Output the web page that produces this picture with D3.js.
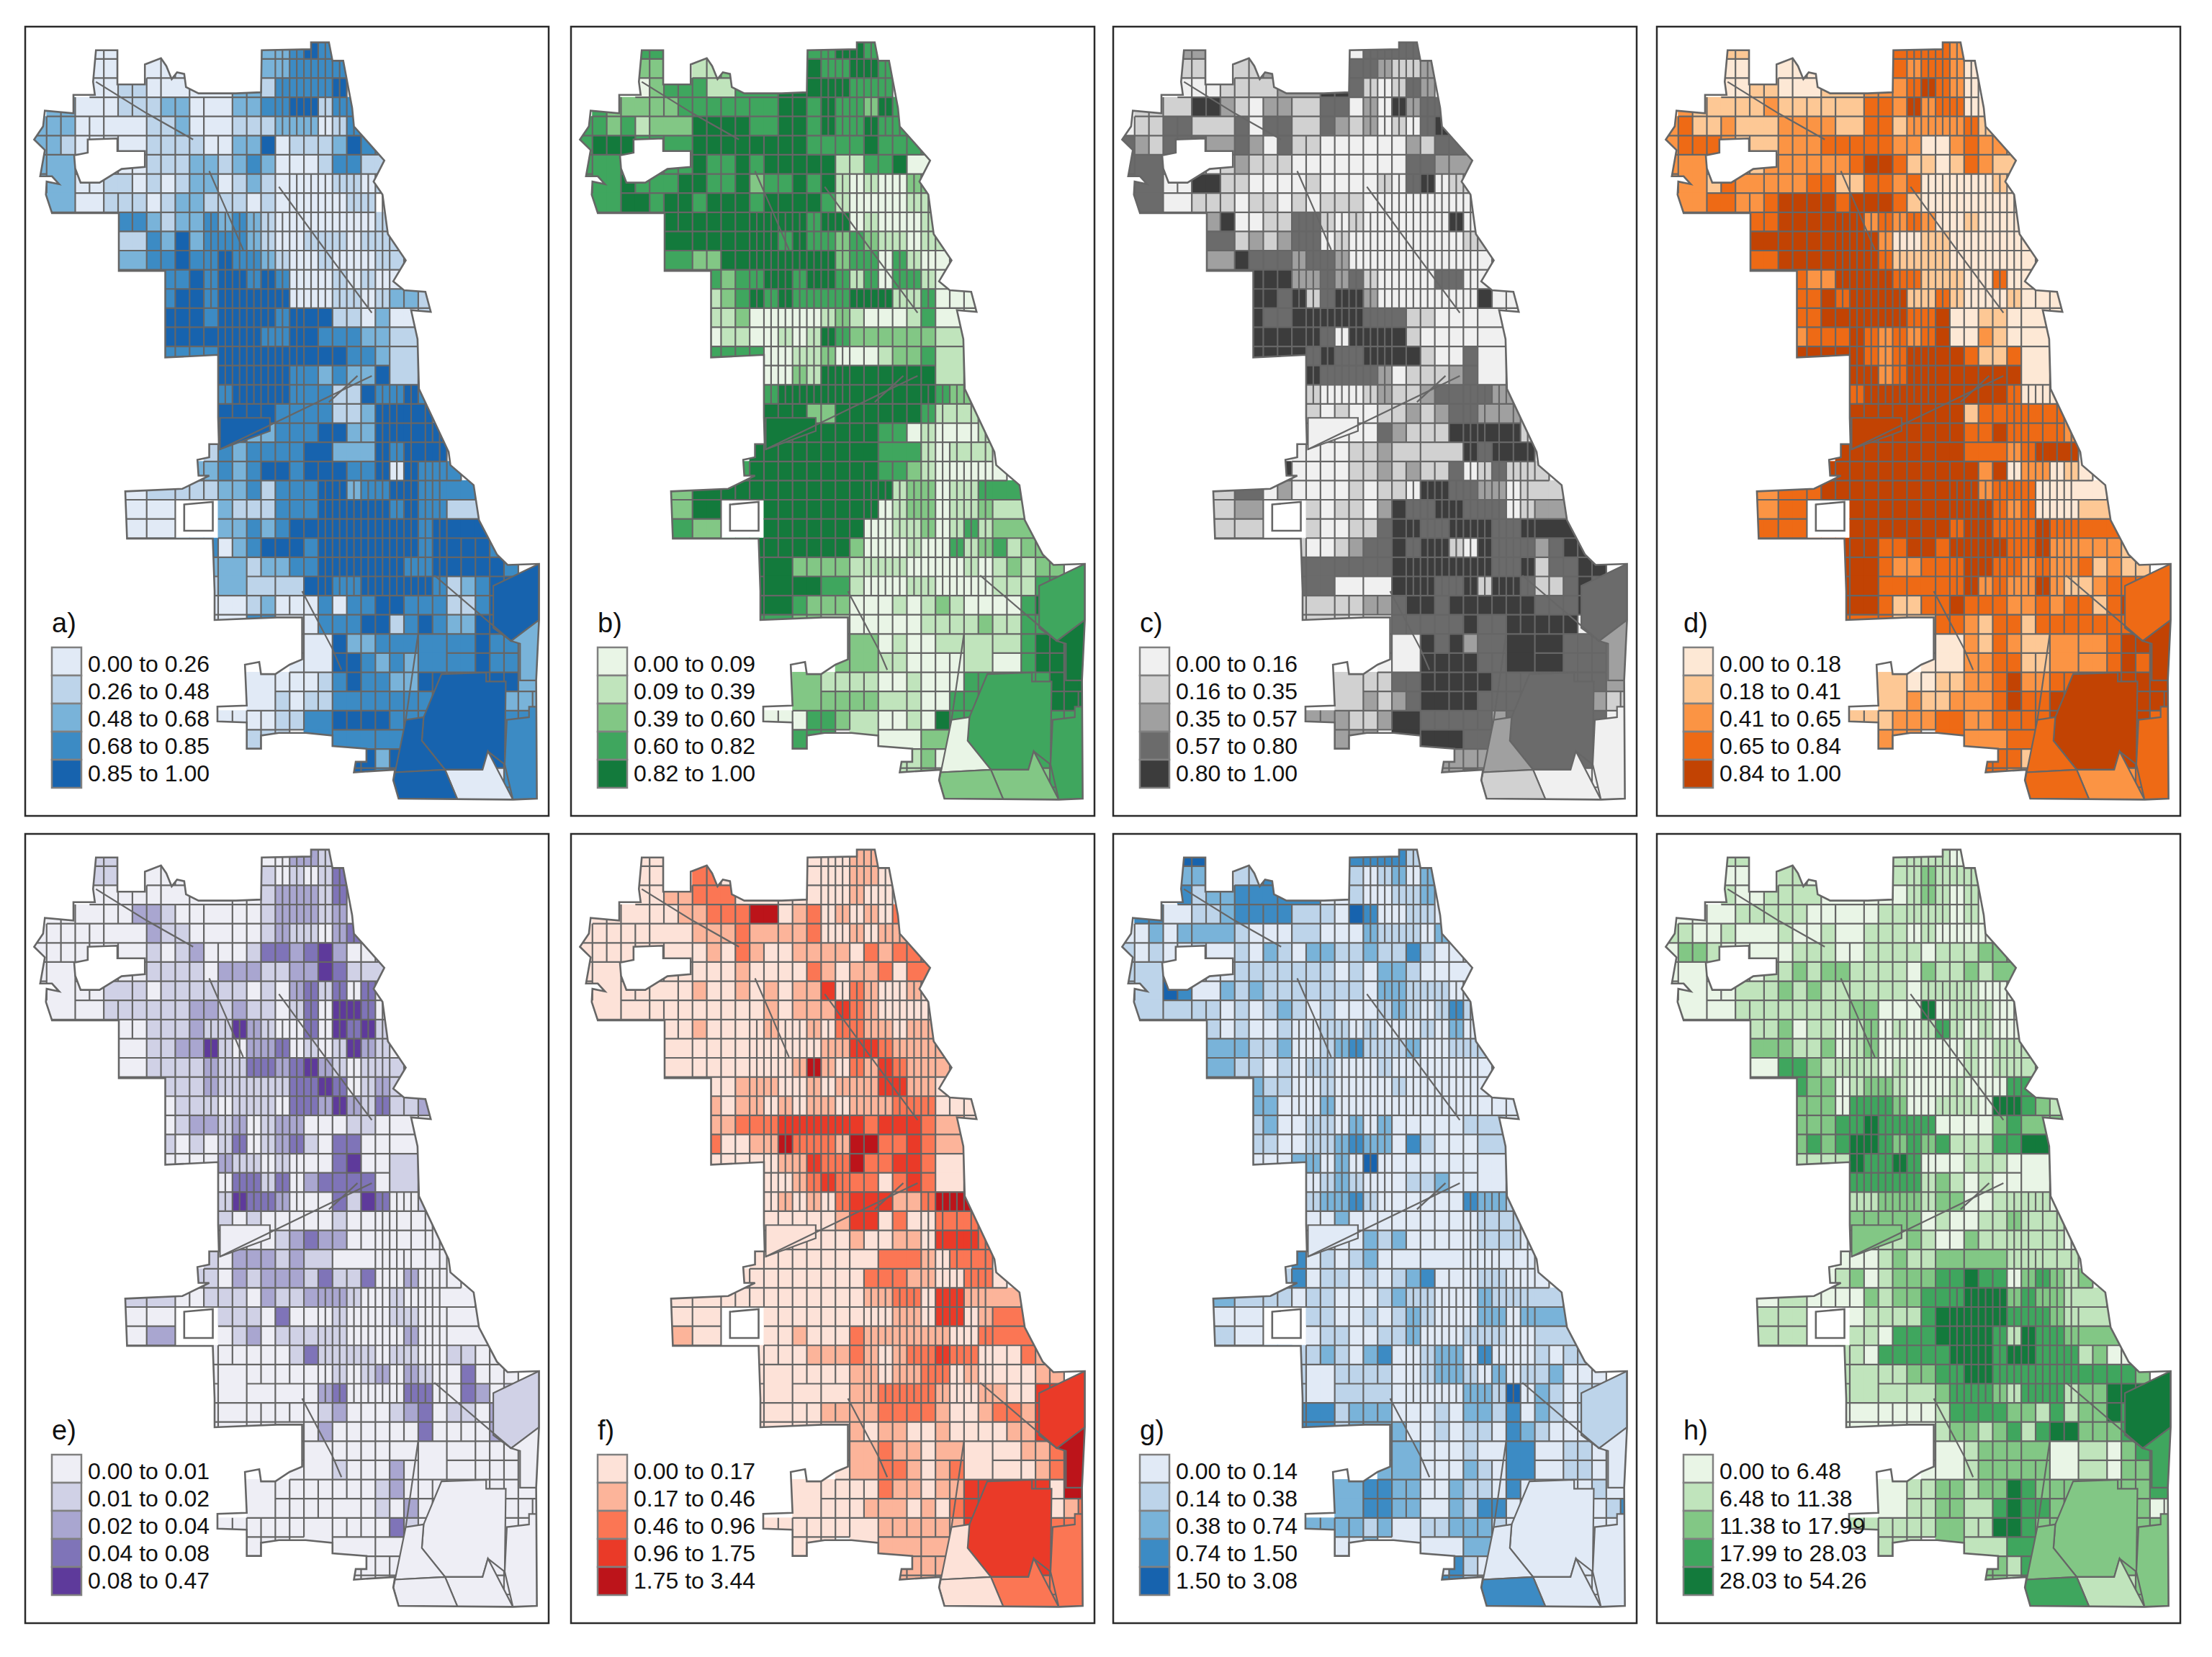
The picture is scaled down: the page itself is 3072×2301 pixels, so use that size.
<!DOCTYPE html>
<html>
<head>
<meta charset="utf-8">
<title>Chicago tract maps</title>
<script src="https://cdn.jsdelivr.net/npm/d3@7"></script>
<style>
  html, body { margin: 0; padding: 0; background: #fff; }
  svg { display: block; }
  text { font-family: "Liberation Sans", Arial, sans-serif; fill: #111; }
</style>
</head>
<body>
<svg id="chart" width="3072" height="2301"></svg>
<script>
'use strict'

//---------------------------colours--------------------------------//
const blues = ['#e1eaf6', '#bdd4ea', '#79b3d9', '#3c8bc4', '#1763ae'];
const greens = ['#e9f5e6', '#c0e4bc', '#82c785', '#3fa65e', '#137a3c'];
const greys = ['#f0f0f0', '#d1d1d1', '#a0a0a0', '#6b6b6b', '#3c3c3c'];
const oranges = ['#fde8d5', '#fdc895', '#fb9444', '#ee6a15', '#c24303'];
const purples = ['#eeeef5', '#d0d1e6', '#a9a6d0', '#7f74b8', '#5e3a9b'];
const reds = ['#fde2d8', '#fcb49a', '#fb7654', '#ea3a28', '#bc141a'];

//---------------------------legend text--------------------------------//
const letters = ['a)', 'b)', 'c)', 'd)', 'e)', 'f)', 'g)', 'h)'];
const labelsA = ['0.00 to 0.26', '0.26 to 0.48', '0.48 to 0.68', '0.68 to 0.85', '0.85 to 1.00'];
const labelsB = ['0.00 to 0.09', '0.09 to 0.39', '0.39 to 0.60', '0.60 to 0.82', '0.82 to 1.00'];
const labelsC = ['0.00 to 0.16', '0.16 to 0.35', '0.35 to 0.57', '0.57 to 0.80', '0.80 to 1.00'];
const labelsD = ['0.00 to 0.18', '0.18 to 0.41', '0.41 to 0.65', '0.65 to 0.84', '0.84 to 1.00'];
const labelsE = ['0.00 to 0.01', '0.01 to 0.02', '0.02 to 0.04', '0.04 to 0.08', '0.08 to 0.47'];
const labelsF = ['0.00 to 0.17', '0.17 to 0.46', '0.46 to 0.96', '0.96 to 1.75', '1.75 to 3.44'];
const labelsG = ['0.00 to 0.14', '0.14 to 0.38', '0.38 to 0.74', '0.74 to 1.50', '1.50 to 3.08'];
const labelsH = ['0.00 to 6.48', '6.48 to 11.38', '11.38 to 17.99', '17.99 to 28.03', '28.03 to 54.26'];

//---------------------------class of every tract, one row per line--------------------------------//
const classesA = [
  '....00..........22343',
  '....00..000.....223333',
  '....001100000022133334',
  '.2200011122000223344133',
  '222000001120011112220133',
  '2210000011110022401112433',
  '2220000011122123200013311',
  '2220010010122012100001101',
  '.22001110122111010000011',
  '......3321223232100000001',
  '......11324233321001110111',
  '......22334334332100100011',
  '.........33434434300010100',
  '.........3443444440001101221',
  '.........44434444344411020111',
  '.........444444433443332211',
  '.........333344444444433211',
  '.............44444332322411',
  '.............344443331143343',
  '.............444433331124444',
  '.............4422333442244444',
  '............13233334422243444',
  '...........2232344344433404333',
  '......0011111223133344233443333',
  '......0000...2111333444443433111',
  '......0000...2232344444444434444',
  '......003333302344434444444344443',
  '............2221223344444433444443',
  '............111111144334444431234444',
  '............000120003033443331134444',
  '............000330003334413432244442',
  '..................000422333333343322',
  '..................000443232233343322',
  '...............000001343322444444422',
  '...............001011333333344444222',
  '.............00001133444433344444333',
  '...............111.33333334444444333',
  '...............1......44244444444333',
  '......................44344440000333',
  '.........................44440000333'
];
const classesB = [
  '....33..........33443',
  '....22..112.....433443',
  '....023331333444444333',
  '.3222223333334443433243',
  '332312334444334434334333',
  '3444333344444444333343333',
  '3333333343343444441133400',
  '3344334443342334341010022',
  '.344434434443444431000011',
  '......4444444444344010001',
  '......44444444343323211011',
  '......33224444444423303100',
  '.........32334434431303310',
  '.........1234343333444113000',
  '.........11200000121000130000',
  '.........011001014322222211',
  '.........333300112000122311',
  '.............00214444444411',
  '.............344444444444322',
  '.............444224444443100',
  '.............4444444433010001',
  '............44444444433310111',
  '...........3444444444332100000',
  '......2244444444444444122011311',
  '......2244...4444444401220112111',
  '......3322...4444444001120131222',
  '......333334444444420001003123122',
  '............4442222111100001012122',
  '............444443310001100001113333',
  '............443322200010121000034433',
  '............333221100000111121133444',
  '..................222010011121134444',
  '..................222110000110034444',
  '...............221111001000333333444',
  '...............012222111003333333444',
  '.............00033211001043333333333',
  '...............333.11000210033333333',
  '...............3......11200033333333',
  '......................11200002222333',
  '.........................22222222333'
];
const classesC = [
  '....22..........03333',
  '....11..112.....332112',
  '....000111221444310132',
  '.1114442102214330204233',
  '011331033033103212010343',
  '3213332332031100000021333',
  '3330000121110000000033222',
  '3300044110000100001034011',
  '.320111101101011100000000',
  '......2400113310100000040',
  '......34121233010000000011',
  '......24433323320000000000',
  '.........44422323100003300',
  '.........4434134420000000400',
  '.........43344444333110000000',
  '.........444443044441000000',
  '.........444434334444100300',
  '.............43333201112300',
  '.............100012112333322',
  '.............101001121233211',
  '.............0000032111444441',
  '............00001121211343444',
  '...........4000011212113013111',
  '......1133020000101104433220111',
  '......1122...1011024334433301222',
  '......1111...1001134433444334444',
  '......112111100123343441043332344',
  '............3323333444444433413344',
  '............332000344433414431134333',
  '............112112234434444443334333',
  '............111100033333433444440132',
  '..................003434233444433322',
  '..................011444433444433322',
  '...............111133444443333333311',
  '...............112123444433333333211',
  '.............22211244333332333333300',
  '...............222.444333222333333300',
  '...............2......22222233333000',
  '......................22312220000000',
  '.........................11110000000'
];
const classesD = [
  '....11..........33332',
  '....00..000.....323320',
  '....001100111222234320',
  '.2112112111112332423300',
  '231121122222133312222312',
  '2333211222233333220023221',
  '2221111222222344311013211',
  '2211322222331133230000010',
  '.113322344443444310000000',
  '......3344444423232001000',
  '......43444444420011000000',
  '......33444444431111000000',
  '.........32244443311100300',
  '.........3343444411310001000',
  '.........33444444334001100000',
  '.........233343232340021000',
  '.........444443234444311300',
  '.............44234444444400',
  '.............344444444443000',
  '.............444444441333310',
  '.............4444444433433332',
  '............44444444333423422',
  '...........4444444444424022010',
  '......2233344444444444233300000',
  '......2233...4444444444323000100',
  '......3333...4444444344333433333',
  '......114444444334434444334222221',
  '............4443223334433232231211',
  '............444343333423224211233333',
  '............443311334333223233134433',
  '............333311333213313333333444',
  '..................002213211222234444',
  '..................011223311222234344',
  '...............110011223422334444444',
  '...............012112223433444444444',
  '.............11122233223333444444433',
  '...............222.32223333333333333',
  '...............2......33313344444333',
  '......................33213332222333',
  '.........................33332222333'
];
const classesE = [
  '....11..........00221',
  '....11..000.....101013',
  '....000000000000122213',
  '.0000002210000001222120',
  '000000022110000012110230',
  '0000000010120001332342001',
  '0000000011110222112243111',
  '0000011101111110102313030',
  '.000111111122121101304430',
  '......0011121142100304341',
  '......00112241022301014210',
  '......00111121133234210111',
  '.........11121111133430121',
  '.........0111011103324213112',
  '.........01221201220001100000',
  '.........101013012310330000',
  '.........000021101000340011',
  '.............03313023333011',
  '.............143320003143001',
  '.............101000001000010',
  '.............0000123220000200',
  '............10222121100000000',
  '...........1102122213113002000',
  '......1111001110211222100100033',
  '......0000...1110300010001100000',
  '......0022...0120111110000200000',
  '......000000000000131111011001100',
  '............0000000001012021003000',
  '............000000002300003300320111',
  '............000000001200012301102111',
  '............000000002000000300002300',
  '..................000000000000000000',
  '..................001100020000000000',
  '...............000000000120000000000',
  '...............110000000102000000000',
  '.............00000000000031000000000',
  '...............000.00000001000000000',
  '...............0......00000000000000',
  '......................00000000000000',
  '.........................00000000000'
];
const classesF = [
  '....00..........00011',
  '....00..220.....000110',
  '....001122201100000100',
  '.0000001122244012010102',
  '000000001112111120010110',
  '0000000001021001111021222',
  '0000000000010000210112022',
  '0000000010010101130210010',
  '.000000000000101113210000',
  '......0010000100102211011',
  '......01000000000113321111',
  '......00000000014102132111',
  '.........00111001011133110',
  '.........1011010110111222000',
  '.........11222333333233321000',
  '.........200114222144223211',
  '.........000001132242233201',
  '.............00123222023211',
  '.............010102333112444',
  '.............000001330200222',
  '.............0000001001103222',
  '............00000000022010222',
  '...........0000000002221100220',
  '......0000000000000011220331111',
  '......0000...0000000001103301221',
  '......1000...0010002111111002222',
  '......000000000011121012232200021',
  '............0000000110112201000011',
  '............000000011222210011003333',
  '............000001111222210012213333',
  '............000000110110010000113344',
  '..................111211012000011244',
  '..................000221012000001224',
  '...............000000211011333333011',
  '...............000001110102333333012',
  '.............00000000111111333333222',
  '...............000.00111110033333222',
  '...............0......11110033333222',
  '......................11100002222222',
  '.........................00002222222'
];
const classesG = [
  '....44..........33331',
  '....22..113.....101202',
  '....312233331100100112',
  '.3301112333310104300110',
  '002022111000100002111022',
  '1010010010210221121131000',
  '1144000011111110102210000',
  '1144301212111111102211100',
  '.121111010121010001210131',
  '......1010010011010001020',
  '......22211200123111200111',
  '......22110101100010000000',
  '.........21100100001000000',
  '.........2200020000000000000',
  '.........12001102020000011000',
  '.........110011232203100010',
  '.........000220204000000000',
  '.............01210001120000',
  '.............122310000003221',
  '.............002000000000111',
  '.............0000212000001000',
  '............30101200000200033',
  '...........1301101012300011000',
  '......2211110110001211000211122',
  '......0100...1100101210002202222',
  '......1100...0110011200011100111',
  '......200033112102300122030001011',
  '............1001111001221020112000',
  '............111111100000221402101111',
  '............331122200010221302101111',
  '............331122220010110321000200',
  '..................222000100320011000',
  '..................222000210330011000',
  '...............223322002110300000110',
  '...............223322002133000000013',
  '.............22221200112221000000000',
  '...............002.00012220000000000',
  '...............0......03100000000000',
  '......................33100000000000',
  '.........................33330000000'
];
const classesH = [
  '....11..........11110',
  '....00..110.....112111',
  '....100111000000012101',
  '.0001111110000011111010',
  '110010011001011110100000',
  '0221000101110011110111222',
  '0000000112122111102112122',
  '0000011121211111101111000',
  '.010111111111220004011100',
  '......1120110120101310100',
  '......22211201200000010111',
  '......00332111101000010111',
  '.........32201221000100033',
  '.........2220333200111044321',
  '.........22233433330000232320',
  '.........232344323231113344',
  '.........111143343000111000',
  '.............33333121010000',
  '.............112221220011110',
  '.............222220100112100',
  '.............2111210021111000',
  '............00012112222411110',
  '...........0120122233433023212',
  '......0011000021223334442322111',
  '......1111...0111134444433321111',
  '......1111...1103334444314332221',
  '......111000110333334443443331200',
  '............1101122334433333333332',
  '............110111223332133312244444',
  '............000000013333221312243344',
  '............000000012212313442223333',
  '..................002122222001102333',
  '..................000122222001102233',
  '...............001122122432222222210',
  '...............011122123433222222200',
  '.............11111122114432222222222',
  '...............111.22113332222222222',
  '...............1......22132222222222',
  '......................22132221111222',
  '.........................33331111222'
];

// classes of the large irregular tracts, same order as largeTracts, panels a to h
const calumetClasses = [4, 3, 3, 4, 0, 3, 0, 2];
const wedgeClasses = [4, 0, 2, 3, 0, 0, 0, 2];
const southClasses = [0, 2, 0, 2, 0, 2, 0, 1];
const southWestClasses = [4, 2, 1, 3, 0, 0, 3, 3];
const southEastClasses = [3, 3, 0, 3, 0, 2, 0, 2];
const lakeClasses = [4, 3, 3, 3, 1, 3, 1, 4];
const lakeSouthClasses = [2, 4, 2, 4, 0, 4, 0, 3];
const archerClasses = [4, 4, 0, 4, 0, 0, 0, 2];

//---------------------------map geometry, in map units--------------------------------//
const cityRing = [[228,70],[288,70],[288,135],[365,135],[365,97],[410,85],[425,100],[440,125],[455,112],[475,115],[480,140],[515,152],[620,152],[690,150],[692,70],[830,68],[830,55],[880,55],[890,90],[920,90],[945,180],[950,215],[1035,280],[1005,320],[1030,345],[1045,420],[1095,470],[1060,510],[1090,527],[1150,530],[1165,568],[1110,565],[1128,620],[1132,715],[1215,835],[1220,860],[1285,898],[1300,965],[1350,1030],[1380,1050],[1468,1048],[1468,1155],[1460,1270],[1462,1495],[1395,1497],[1075,1495],[1060,1460],[1065,1440],[950,1445],[955,1425],[985,1425],[985,1400],[890,1395],[890,1375],[815,1370],[740,1370],[690,1375],[690,1400],[650,1400],[650,1350],[568,1348],[568,1320],[650,1318],[645,1240],[685,1235],[690,1258],[730,1258],[770,1240],[805,1230],[805,1150],[735,1150],[560,1155],[560,1100],[555,1000],[400,1000],[315,1000],[310,910],[470,905],[545,880],[515,880],[512,850],[545,845],[545,820],[572,820],[570,770],[570,650],[422,655],[422,490],[292,490],[292,380],[105,380],[88,345],[90,320],[125,325],[105,310],[72,310],[85,260],[55,240],[80,215],[85,185],[165,190],[165,155],[225,155],[220,130],[228,70]];
const ohareHole = [[167,270],[205,265],[205,240],[288,238],[288,262],[365,262],[365,292],[300,296],[238,322],[185,322],[170,295],[167,270]];
const westHole = [[475,935],[555,930],[555,985],[475,985],[475,935]];

const calumetRing = [[1195,1258],[1320,1255],[1320,1272],[1375,1272],[1372,1430],[1325,1405],[1310,1440],[1205,1440],[1140,1385],[1145,1340],[1195,1258]];
const wedgeRing = [[1095,1345],[1145,1340],[1140,1385],[1205,1440],[1065,1445],[1095,1345]];
const southRing = [[1205,1440],[1310,1440],[1325,1405],[1395,1497],[1240,1497],[1205,1440]];
const southWestRing = [[1065,1445],[1205,1440],[1240,1497],[1075,1497],[1060,1460],[1065,1445]];
const southEastRing = [[1372,1430],[1378,1345],[1440,1340],[1440,1320],[1468,1320],[1468,1497],[1395,1497],[1372,1430]];
const lakeRing = [[1340,1090],[1468,1048],[1468,1155],[1390,1195],[1340,1170],[1340,1090]];
const lakeSouthRing = [[1390,1195],[1468,1155],[1468,1270],[1415,1270],[1415,1200],[1390,1195]];
const archerRing = [[575,770],[715,770],[715,795],[575,830],[575,770]];

const largeTracts = [
  { ring: calumetRing, classes: calumetClasses },
  { ring: wedgeRing, classes: wedgeClasses },
  { ring: southRing, classes: southClasses },
  { ring: southWestRing, classes: southWestClasses },
  { ring: southEastRing, classes: southEastClasses },
  { ring: lakeRing, classes: lakeClasses },
  { ring: lakeSouthRing, classes: lakeSouthClasses },
  { ring: archerRing, classes: archerClasses }
];

// long diagonal streets that cut across the grid
const streets = [
  [[228,130],[370,190],[500,240]],
  [[545,300],[590,370],[640,450]],
  [[740,330],[880,460],[1000,570]],
  [[575,830],[1000,690]],
  [[1175,1070],[1390,1195]],
  [[1130,1180],[1095,1345]],
  [[880,740],[960,690]],
  [[805,1100],[890,1210],[915,1250]]
];

// grid cells that belong to one tract: col0, row0, col1, row1
const mergedCells = [
  [1,6,2,8], [25,16,26,17], [21,21,23,21], [23,6,24,6], [6,10,7,10], [6,11,7,11],
  [13,27,14,28], [19,21,20,21], [29,32,30,32], [29,31,30,31],
  [6,23,7,23], [8,23,9,23], [6,24,7,24], [8,24,9,24], [6,25,7,25], [8,25,9,25],
  [13,29,14,29], [13,30,14,30], [17,30,18,30], [17,28,18,28], [12,3,13,3],
  [34,31,35,33], [19,31,20,32], [15,33,16,34], [19,35,20,36], [21,34,22,34],
  [21,36,23,36], [24,36,25,36], [27,31,28,32], [25,31,26,31], [15,28,16,28],
  [3,3,4,3], [5,4,7,4], [3,8,4,8], [5,7,6,7], [12,4,13,4], [11,2,13,2], [6,5,7,5], [9,2,10,2],
  [25,14,26,14], [25,15,26,15], [25,19,27,19], [25,20,27,20], [26,21,28,21],
  [28,23,30,23], [29,24,31,24], [29,25,31,25]
];

// blocks of narrow tracts, each column gets an extra line: col0, row0, col1, row1
const narrowBlocks = [
  [13,14,18,18], [18,7,24,13], [20,23,28,28], [24,18,28,22], [17,0,22,4], [12,9,17,13]
];

const panels = [
  { classes: classesA, colors: blues, labels: labelsA },
  { classes: classesB, colors: greens, labels: labelsB },
  { classes: classesC, colors: greys, labels: labelsC },
  { classes: classesD, colors: oranges, labels: labelsD },
  { classes: classesE, colors: purples, labels: labelsE },
  { classes: classesF, colors: reds, labels: labelsF },
  { classes: classesG, colors: blues, labels: labelsG },
  { classes: classesH, colors: greens, labels: labelsH }
];

//---------------------------layout--------------------------------//
const panelW = 727, panelH = 1096;
const panelLeft = [35, 793, 1546, 2301];
const panelTop = [37, 1158];
const meshColor = '#666';
const nCols = 36, nRows = 40;

const sx = d3.scaleLinear().domain([30, 1495]).range([0, panelW]);
const sy = d3.scaleLinear().domain([25, 1528]).range([0, panelH]);
const colEdge = d3.scaleLinear().domain([0, nCols]).range([50, 1490]);
const rowEdge = d3.scaleLinear().domain([0, nRows]).range([50, 1510]);

const mapPath = d3.geoPath(d3.geoTransform({
  point: function (x, y) { this.stream.point(sx(x), sy(y)); }
}));

// which tract a grid cell is part of
const tractOf = new Map();
mergedCells.forEach(function (m) {
  for (let r = m[1]; r <= m[3]; r++) {
    for (let c = m[0]; c <= m[2]; c++) {
      tractOf.set(c + ',' + r, m[0] + ',' + m[1]);
    }
  }
});
function tractKey(c, r) {
  const k = c + ',' + r;
  return tractOf.has(k) ? tractOf.get(k) : k;
}

function cellClass(rows, c, r) {
  if (r < 0 || r >= nRows) return '.';
  return rows[r].padEnd(nCols, '.').charAt(c) || '.';
}

const svg = d3.select('#chart');

svg.append('defs').append('clipPath').attr('id', 'city')
  .append('path')
  .attr('clip-rule', 'evenodd')
  .attr('d', mapPath({ type: 'Polygon', coordinates: [cityRing, ohareHole, westHole] }));

panels.forEach(function (panel, i) {
  const g = svg.append('g')
    .attr('transform', 'translate(' + panelLeft[i % 4] + ',' + panelTop[i < 4 ? 0 : 1] + ')');

  g.append('rect')
    .attr('width', panelW).attr('height', panelH)
    .attr('fill', '#fff').attr('stroke', '#2a2a2a').attr('stroke-width', 2.5);

  const map = g.append('g').attr('clip-path', 'url(#city)');

  // cells
  const cells = [];
  d3.range(nRows).forEach(function (r) {
    d3.range(nCols).forEach(function (c) {
      const own = cellClass(panel.classes, c, r);
      if (own === '.') return;
      const key = tractKey(c, r).split(',').map(Number);
      const v = cellClass(panel.classes, key[0], key[1]);
      cells.push({ c: c, r: r, v: v === '.' ? +own : +v });
    });
  });
  map.selectAll('rect.cell').data(cells).join('rect')
    .attr('class', 'cell')
    .attr('x', function (d) { return sx(colEdge(d.c)) - 0.5; })
    .attr('y', function (d) { return sy(rowEdge(d.r)) - 0.5; })
    .attr('width', function (d) { return sx(colEdge(d.c + 1)) - sx(colEdge(d.c)) + 1; })
    .attr('height', function (d) { return sy(rowEdge(d.r + 1)) - sy(rowEdge(d.r)) + 1; })
    .attr('fill', function (d) { return panel.colors[d.v]; });

  // tract borders
  const mesh = d3.path();
  cells.forEach(function (d) {
    const x0 = sx(colEdge(d.c)), x1 = sx(colEdge(d.c + 1));
    const y0 = sy(rowEdge(d.r)), y1 = sy(rowEdge(d.r + 1));
    if (tractKey(d.c + 1, d.r) !== tractKey(d.c, d.r)) { mesh.moveTo(x1, y0); mesh.lineTo(x1, y1); }
    if (tractKey(d.c, d.r + 1) !== tractKey(d.c, d.r)) { mesh.moveTo(x0, y1); mesh.lineTo(x1, y1); }
  });
  narrowBlocks.forEach(function (b) {
    d3.range(b[0], b[2] + 1).forEach(function (c) {
      mesh.moveTo(sx(colEdge(c + 0.5)), sy(rowEdge(b[1])));
      mesh.lineTo(sx(colEdge(c + 0.5)), sy(rowEdge(b[3] + 1)));
    });
  });
  map.append('path').attr('d', mesh.toString())
    .attr('fill', 'none').attr('stroke', meshColor).attr('stroke-width', 2.2);

  // large irregular tracts
  map.selectAll('path.large').data(largeTracts).join('path')
    .attr('class', 'large')
    .attr('d', function (t) { return mapPath({ type: 'Polygon', coordinates: [t.ring] }); })
    .attr('fill', function (t) { return panel.colors[t.classes[i]]; })
    .attr('stroke', meshColor).attr('stroke-width', 2.2);

  map.selectAll('path.street').data(streets).join('path')
    .attr('class', 'street')
    .attr('d', function (s) { return mapPath({ type: 'LineString', coordinates: s }); })
    .attr('fill', 'none').attr('stroke', meshColor).attr('stroke-width', 2.2);

  // city outline
  g.append('path')
    .attr('d', mapPath({ type: 'Polygon', coordinates: [cityRing, ohareHole, westHole] }))
    .attr('fill', 'none').attr('stroke', meshColor).attr('stroke-width', 2.6);

  // legend
  const legend = g.append('g').attr('transform', 'translate(37,862)');
  legend.append('text').attr('x', 0).attr('y', -21)
    .attr('font-size', 38).text(letters[i]);
  legend.selectAll('rect').data(panel.colors).join('rect')
    .attr('x', 0).attr('y', function (d, k) { return k * 39; })
    .attr('width', 41).attr('height', 39)
    .attr('fill', function (d) { return d; })
    .attr('stroke', '#808080').attr('stroke-width', 2.5);
  legend.selectAll('text.lab').data(panel.labels).join('text')
    .attr('class', 'lab')
    .attr('x', 50).attr('y', function (d, k) { return 34 + k * 38; })
    .attr('font-size', 32).text(function (d) { return d; });
});
</script>
</body>
</html>
